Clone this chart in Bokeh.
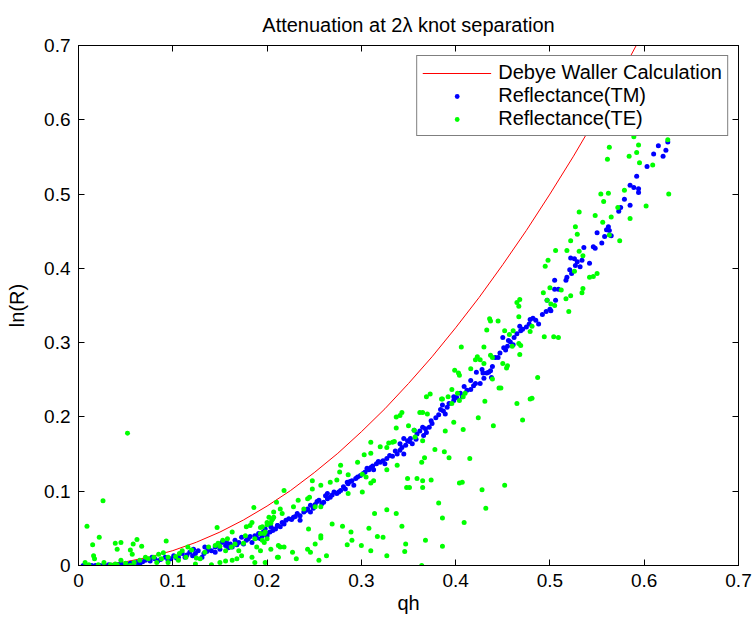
from bokeh.plotting import figure
from bokeh.models import Range1d, LinearAxis, FixedTicker, Legend, LegendItem
from bokeh.embed import file_html
from bokeh.resources import INLINE

title_text = "Attenuation at 2λ knot separation"
x_label = "qh"
y_label = "ln(R)"
tick_values = [0, 0.1, 0.2, 0.3, 0.4, 0.5, 0.6, 0.7]
tick_labels = ["0", "0.1", "0.2", "0.3", "0.4", "0.5", "0.6", "0.7"]
series_names = ["Debye Waller Calculation", "Reflectance(TM)", "Reflectance(TE)"]

# Debye Waller calculation (red line)
dw_qh = [0, 0.025, 0.05, 0.075, 0.1, 0.125, 0.15, 0.175, 0.2, 0.225, 0.25, 0.275, 0.3,
         0.325, 0.35, 0.375, 0.4, 0.425, 0.45, 0.475, 0.5, 0.525, 0.55, 0.575, 0.6]
dw_lnR = [0, 0.0013, 0.005, 0.0113, 0.02, 0.0313, 0.045, 0.0613, 0.08, 0.101, 0.125, 0.151, 0.18,
          0.211, 0.245, 0.281, 0.32, 0.361, 0.405, 0.451, 0.5, 0.551, 0.605, 0.661, 0.72]

# Reflectance (TM) points (qh, ln R)
tm_points = [
    (0.615, 0.565), (0.625, 0.570), (0.623, 0.559), (0.620, 0.551), (0.610, 0.554), (0.603, 0.537),
    (0.592, 0.524), (0.585, 0.512), (0.589, 0.509), (0.594, 0.507), (0.594, 0.502), (0.579, 0.493),
    (0.585, 0.485), (0.575, 0.482), (0.573, 0.477), (0.562, 0.456), (0.563, 0.451), (0.560, 0.452),
    (0.550, 0.448), (0.558, 0.443), (0.565, 0.444), (0.555, 0.434), (0.546, 0.429), (0.548, 0.427),
    (0.536, 0.428), (0.522, 0.414), (0.526, 0.413), (0.529, 0.409), (0.534, 0.411), (0.542, 0.407),
    (0.527, 0.404), (0.532, 0.402), (0.521, 0.398), (0.523, 0.393), (0.518, 0.388), (0.517, 0.384),
    (0.505, 0.384), (0.505, 0.372), (0.509, 0.372), (0.506, 0.357), (0.497, 0.357), (0.500, 0.345),
    (0.482, 0.333), (0.479, 0.331), (0.478, 0.325), (0.488, 0.325), (0.468, 0.322), (0.469, 0.316),
    (0.475, 0.321), (0.465, 0.312), (0.462, 0.307), (0.456, 0.303), (0.450, 0.307), (0.455, 0.295),
    (0.451, 0.293), (0.461, 0.297), (0.445, 0.280), (0.442, 0.280), (0.439, 0.268), (0.435, 0.260),
    (0.428, 0.264), (0.429, 0.259), (0.422, 0.260), (0.433, 0.259), (0.438, 0.253), (0.430, 0.252),
    (0.416, 0.249), (0.421, 0.245), (0.426, 0.245), (0.409, 0.241), (0.416, 0.237), (0.405, 0.232),
    (0.398, 0.227), (0.407, 0.227), (0.501, 0.343), (0.496, 0.342),
    (0.391, 0.213), (0.387, 0.208), (0.389, 0.204), (0.384, 0.210), (0.386, 0.216), (0.375, 0.191),
    (0.372, 0.186), (0.369, 0.179), (0.365, 0.186), (0.366, 0.175), (0.359, 0.177), (0.356, 0.182),
    (0.352, 0.171), (0.349, 0.168), (0.345, 0.171), (0.343, 0.159), (0.341, 0.155), (0.338, 0.150),
    (0.345, 0.150), (0.341, 0.164), (0.327, 0.144), (0.325, 0.137), (0.320, 0.139), (0.316, 0.137),
    (0.313, 0.129), (0.308, 0.129), (0.304, 0.126), (0.299, 0.121), (0.296, 0.119), (0.290, 0.114),
    (0.292, 0.108), (0.286, 0.110), (0.283, 0.103), (0.278, 0.101), (0.274, 0.097), (0.271, 0.099),
    (0.267, 0.092), (0.264, 0.090), (0.260, 0.085), (0.255, 0.088), (0.251, 0.082), (0.246, 0.081),
    (0.243, 0.076), (0.246, 0.072), (0.239, 0.072), (0.235, 0.067), (0.232, 0.070), (0.228, 0.065),
    (0.223, 0.063), (0.220, 0.061), (0.216, 0.058), (0.214, 0.052), (0.211, 0.054), (0.207, 0.049),
    (0.204, 0.052), (0.200, 0.043), (0.197, 0.045), (0.195, 0.040), (0.235, 0.061), (0.264, 0.097),
    (0.285, 0.112), (0.310, 0.132), (0.333, 0.147), (0.354, 0.164), (0.398, 0.222),
    (0.005, 0.000), (0.014, 0.000), (0.023, 0.000), (0.032, 0.001), (0.037, 0.000), (0.042, 0.001),
    (0.050, 0.001), (0.055, 0.003), (0.062, 0.004), (0.065, 0.002), (0.071, 0.007), (0.076, 0.006),
    (0.081, 0.009), (0.087, 0.008), (0.092, 0.011), (0.095, 0.007), (0.101, 0.013), (0.106, 0.011),
    (0.110, 0.016), (0.113, 0.011), (0.118, 0.018), (0.124, 0.016), (0.127, 0.020), (0.133, 0.016),
    (0.138, 0.022), (0.141, 0.020), (0.145, 0.025), (0.150, 0.022), (0.156, 0.027), (0.157, 0.031),
    (0.161, 0.029), (0.166, 0.034), (0.170, 0.031), (0.173, 0.038), (0.178, 0.034), (0.182, 0.039),
    (0.187, 0.040), (0.191, 0.043), (0.196, 0.045), (0.200, 0.040), (0.203, 0.045), (0.209, 0.049),
    (0.211, 0.054), (0.163, 0.025), (0.152, 0.031), (0.134, 0.025), (0.122, 0.022), (0.078, 0.011),
    (0.057, 0.001), (0.027, 0.001), (0.011, 0.000), (0.184, 0.031), (0.193, 0.036), (0.175, 0.029),
    (0.145, 0.018), (0.131, 0.011),
    (0.018, 0.000), (0.045, 0.002), (0.068, 0.005), (0.084, 0.006), (0.098, 0.009), (0.104, 0.010),
    (0.115, 0.014), (0.121, 0.013), (0.136, 0.019), (0.148, 0.027), (0.159, 0.024), (0.168, 0.028),
    (0.180, 0.036), (0.189, 0.037), (0.198, 0.049), (0.206, 0.047), (0.218, 0.056), (0.226, 0.062),
    (0.230, 0.066), (0.241, 0.074), (0.249, 0.077), (0.253, 0.086), (0.258, 0.083), (0.262, 0.094),
    (0.269, 0.095), (0.276, 0.099), (0.281, 0.106), (0.288, 0.113), (0.294, 0.117), (0.302, 0.124),
    (0.306, 0.131), (0.312, 0.134), (0.318, 0.140), (0.323, 0.141), (0.330, 0.148), (0.336, 0.154),
    (0.347, 0.162), (0.351, 0.167), (0.358, 0.170), (0.362, 0.181), (0.368, 0.184), (0.374, 0.195),
    (0.379, 0.199), (0.382, 0.203), (0.393, 0.218), (0.401, 0.226), (0.412, 0.236), (0.419, 0.242),
    (0.437, 0.262), (0.447, 0.286), (0.453, 0.290), (0.458, 0.301), (0.471, 0.318), (0.485, 0.330),
    (0.492, 0.338),
]

# Reflectance (TE) points (qh, ln R)
te_points = [
    (0.563, 0.563), (0.594, 0.566), (0.592, 0.556), (0.584, 0.551), (0.561, 0.547), (0.595, 0.542),
    (0.609, 0.539), (0.625, 0.573), (0.626, 0.500), (0.554, 0.500), (0.562, 0.501), (0.579, 0.505),
    (0.557, 0.490), (0.572, 0.482), (0.602, 0.484), (0.531, 0.476), (0.548, 0.471), (0.565, 0.469),
    (0.585, 0.467), (0.556, 0.462), (0.527, 0.456), (0.529, 0.446), (0.522, 0.437), (0.563, 0.445),
    (0.574, 0.437), (0.506, 0.424), (0.518, 0.424), (0.531, 0.423), (0.535, 0.417), (0.498, 0.411),
    (0.495, 0.403), (0.526, 0.396), (0.542, 0.388), (0.546, 0.389), (0.550, 0.393), (0.535, 0.373),
    (0.534, 0.367), (0.522, 0.363), (0.517, 0.359), (0.512, 0.371), (0.500, 0.374), (0.493, 0.367),
    (0.497, 0.357), (0.505, 0.350), (0.501, 0.352), (0.589, 0.577),
    (0.468, 0.358), (0.465, 0.354), (0.467, 0.349), (0.467, 0.335), (0.436, 0.332), (0.437, 0.329),
    (0.445, 0.329), (0.433, 0.317), (0.452, 0.316), (0.461, 0.316), (0.457, 0.311), (0.467, 0.299),
    (0.469, 0.296), (0.460, 0.295), (0.479, 0.315), (0.481, 0.322), (0.406, 0.294), (0.430, 0.294),
    (0.468, 0.284), (0.494, 0.308), (0.504, 0.308), (0.509, 0.307), (0.520, 0.342), (0.423, 0.281),
    (0.421, 0.277), (0.426, 0.277), (0.437, 0.283), (0.439, 0.280), (0.450, 0.272), (0.455, 0.269),
    (0.454, 0.266), (0.430, 0.272), (0.416, 0.265), (0.399, 0.263), (0.403, 0.259), (0.404, 0.256),
    (0.439, 0.251), (0.487, 0.253), (0.446, 0.239), (0.396, 0.237), (0.402, 0.232), (0.410, 0.232),
    (0.408, 0.227), (0.479, 0.224), (0.392, 0.227), (0.385, 0.224),
    (0.369, 0.227), (0.373, 0.231), (0.362, 0.206), (0.365, 0.206), (0.370, 0.204), (0.386, 0.224),
    (0.396, 0.218), (0.404, 0.222), (0.343, 0.206), (0.341, 0.202), (0.337, 0.200), (0.350, 0.188),
    (0.337, 0.185), (0.356, 0.182), (0.365, 0.168), (0.357, 0.173), (0.389, 0.181), (0.398, 0.193),
    (0.329, 0.165), (0.333, 0.166), (0.335, 0.167), (0.310, 0.166), (0.327, 0.159), (0.320, 0.160),
    (0.303, 0.149), (0.310, 0.151), (0.296, 0.139), (0.278, 0.135), (0.277, 0.126), (0.286, 0.122),
    (0.301, 0.123), (0.327, 0.129), (0.338, 0.135), (0.313, 0.114), (0.305, 0.119), (0.310, 0.111),
    (0.301, 0.099), (0.286, 0.097), (0.274, 0.115), (0.267, 0.112), (0.257, 0.108), (0.248, 0.114),
    (0.248, 0.103), (0.257, 0.079), (0.251, 0.079), (0.245, 0.092), (0.243, 0.090), (0.218, 0.101),
    (0.210, 0.085), (0.228, 0.079), (0.239, 0.076), (0.233, 0.088), (0.214, 0.076), (0.207, 0.072),
    (0.216, 0.070), (0.207, 0.065), (0.202, 0.065), (0.205, 0.061), (0.200, 0.058), (0.195, 0.052),
    (0.197, 0.043), (0.200, 0.036), (0.197, 0.031), (0.193, 0.020), (0.212, 0.027), (0.214, 0.025),
    (0.212, 0.011), (0.218, 0.025), (0.227, 0.018), (0.231, 0.009), (0.243, 0.022), (0.244, 0.049),
    (0.257, 0.040), (0.257, 0.037), (0.246, 0.018), (0.251, 0.029), (0.255, 0.007), (0.263, 0.013),
    (0.269, 0.056), (0.280, 0.053), (0.289, 0.045), (0.285, 0.028), (0.290, 0.034), (0.300, 0.027),
    (0.308, 0.050), (0.317, 0.039), (0.323, 0.038), (0.310, 0.020), (0.327, 0.013), (0.337, 0.070),
    (0.343, 0.053), (0.347, 0.029), (0.346, 0.019), (0.364, 0.000), (0.368, 0.034), (0.382, 0.084),
    (0.386, 0.064), (0.386, 0.026), (0.327, 0.075), (0.314, 0.070), (0.349, 0.117), (0.351, 0.105),
    (0.359, 0.117), (0.365, 0.114), (0.365, 0.105), (0.348, 0.105), (0.374, 0.115), (0.378, 0.156),
    (0.388, 0.153), (0.393, 0.145), (0.367, 0.145), (0.364, 0.139), (0.404, 0.111), (0.198, 0.004),
    (0.428, 0.102), (0.452, 0.108), (0.432, 0.077), (0.409, 0.058), (0.407, 0.112), (0.408, 0.183),
    (0.424, 0.199), (0.431, 0.221), (0.440, 0.188), (0.448, 0.239), (0.465, 0.218), (0.471, 0.196),
    (0.481, 0.225), (0.415, 0.144),
    (0.052, 0.178), (0.026, 0.087), (0.009, 0.053), (0.022, 0.038), (0.015, 0.028), (0.039, 0.030),
    (0.045, 0.031), (0.041, 0.022), (0.062, 0.035), (0.058, 0.029), (0.067, 0.026), (0.055, 0.021),
    (0.057, 0.015), (0.016, 0.013), (0.017, 0.009), (0.007, 0.004), (0.093, 0.033), (0.045, 0.007),
    (0.055, 0.000), (0.011, 0.001), (0.021, 0.001), (0.027, 0.004), (0.034, 0.001), (0.039, 0.002),
    (0.050, 0.003), (0.059, 0.004), (0.065, 0.007), (0.071, 0.011), (0.074, 0.009), (0.080, 0.011),
    (0.085, 0.015), (0.090, 0.017), (0.088, 0.009), (0.095, 0.011), (0.103, 0.012), (0.107, 0.016),
    (0.110, 0.020), (0.116, 0.025), (0.120, 0.021), (0.124, 0.002), (0.125, 0.010), (0.129, 0.009),
    (0.134, 0.018), (0.138, 0.025), (0.141, 0.001), (0.147, 0.051), (0.148, 0.030), (0.153, 0.034),
    (0.158, 0.036), (0.163, 0.045), (0.162, 0.025), (0.150, 0.004), (0.156, 0.006), (0.163, 0.007),
    (0.168, 0.009), (0.170, 0.020), (0.173, 0.013), (0.175, 0.030), (0.177, 0.040), (0.178, 0.052),
    (0.182, 0.054), (0.186, 0.078), (0.187, 0.036), (0.189, 0.025), (0.193, 0.043), (0.193, 0.051),
    (0.198, 0.045), (0.204, 0.057), (0.206, 0.063), (0.200, 0.055), (0.204, 0.022), (0.211, 0.011),
    (0.184, 0.011), (0.187, 0.004), (0.195, 0.034), (0.184, 0.058), (0.156, 0.020), (0.150, 0.026),
    (0.145, 0.027), (0.166, 0.029), (0.106, 0.007), (0.114, 0.011), (0.095, 0.004), (0.083, 0.004),
    (0.041, 0.001),
]

tm_qh = [pt[0] for pt in tm_points]
tm_lnR = [pt[1] for pt in tm_points]
te_qh = [pt[0] for pt in te_points]
te_lnR = [pt[1] for pt in te_points]

FONT = "Liberation Sans"

p = figure(width=752, height=620, x_range=Range1d(0, 0.7), y_range=Range1d(0, 0.7),
           output_backend="svg", toolbar_location=None, title=title_text,
           min_border_left=78, min_border_right=14, min_border_top=45, min_border_bottom=55)
p.background_fill_color = "white"
p.border_fill_color = "white"
p.outline_line_color = "black"
p.outline_line_width = 1
p.grid.visible = False

p.title.text_font = FONT
p.title.text_font_size = "20px"
p.title.text_font_style = "normal"
p.title.text_color = "black"
p.title.align = "center"
p.title.standoff = 19

overrides = {v: s for v, s in zip(tick_values, tick_labels)}


def style_main_axis(ax):
    ax.ticker = FixedTicker(ticks=tick_values)
    ax.major_tick_in = 6
    ax.major_tick_out = 0
    ax.minor_tick_in = 0
    ax.minor_tick_out = 0
    ax.axis_line_color = "black"
    ax.major_tick_line_color = "black"
    ax.minor_tick_line_color = None
    ax.major_label_overrides = overrides
    ax.major_label_text_font = FONT
    ax.major_label_text_font_size = "19px"
    ax.major_label_text_color = "black"
    ax.axis_label_text_font = FONT
    ax.axis_label_text_font_size = "20px"
    ax.axis_label_text_font_style = "normal"
    ax.axis_label_text_color = "black"


def style_mirror_axis(ax):
    # ticks only (drawn as minor ticks, so that no labels are produced)
    ax.ticker = FixedTicker(ticks=[], minor_ticks=tick_values)
    ax.major_tick_in = 0
    ax.major_tick_out = 0
    ax.minor_tick_in = 6
    ax.minor_tick_out = 0
    ax.axis_line_color = "black"
    ax.minor_tick_line_color = "black"
    ax.major_label_standoff = 0


style_main_axis(p.xaxis[0])
style_main_axis(p.yaxis[0])
p.xaxis.axis_label = x_label
p.yaxis.axis_label = y_label
p.xaxis.major_label_standoff = 8
p.xaxis.axis_label_standoff = 2
p.yaxis.major_label_standoff = 8
p.yaxis.axis_label_standoff = 13

top_axis = LinearAxis()
style_mirror_axis(top_axis)
p.add_layout(top_axis, "above")
right_axis = LinearAxis()
style_mirror_axis(right_axis)
p.add_layout(right_axis, "right")

dw = p.line(dw_qh, dw_lnR, line_color="#ff0000", line_width=1)
tm = p.scatter(tm_qh, tm_lnR, size=5, fill_color="#0000ff", line_color=None)
te = p.scatter(te_qh, te_lnR, size=5, fill_color="#00ff00", line_color=None)

legend = Legend(items=[LegendItem(label=series_names[0], renderers=[dw]),
                       LegendItem(label=series_names[1], renderers=[tm]),
                       LegendItem(label=series_names[2], renderers=[te])],
                location="top_right")
legend.border_line_color = "black"
legend.border_line_width = 1
legend.background_fill_color = "white"
legend.background_fill_alpha = 1
legend.label_text_font = FONT
legend.label_text_font_size = "20px"
legend.label_text_color = "black"
legend.glyph_width = 69
legend.glyph_height = 12
legend.label_height = 20
legend.label_standoff = 7
legend.padding = 5
legend.spacing = 0
legend.margin = 10
p.add_layout(legend)

open("out.html", "w").write(file_html(p, INLINE))
